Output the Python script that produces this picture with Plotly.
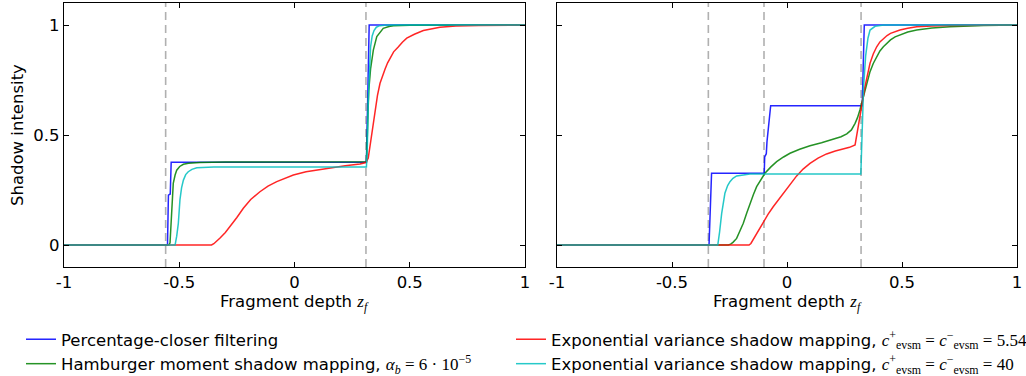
import plotly.graph_objects as go

# ---------------- data ----------------
# Left panel
pcf_l_x = [-1, -0.551, -0.547, -0.539, -0.535, 0.312, 0.324, 1]
pcf_l_y = [0, 0, 0.227, 0.232, 0.376, 0.376, 1, 1]

hm_l_x = [-1, -0.545, -0.540, -0.536, -0.533, -0.529, -0.526, -0.518, -0.511, -0.498, -0.482, -0.46, -0.41, -0.3,
          0.312, 0.316, 0.322, 0.330, 0.342, 0.357, 0.372, 0.385, 0.41, 0.429, 0.5, 1]
hm_l_y = [0, 0, 0.01, 0.09, 0.174, 0.24, 0.28, 0.318, 0.34, 0.357, 0.367, 0.372, 0.375, 0.377,
          0.378, 0.5, 0.7, 0.8, 0.886, 0.947, 0.97, 0.985, 0.993, 0.997, 0.999, 1]

ev5_l_x = [-1, -0.36, -0.35, -0.337, -0.323, -0.30, -0.28, -0.25, -0.222, -0.19, -0.15, -0.115, -0.077, -0.04,
           -0.005, 0.05, 0.14, 0.22, 0.284, 0.31, 0.320, 0.328, 0.335, 0.342, 0.349, 0.36, 0.371, 0.382, 0.393,
           0.404, 0.414, 0.43, 0.45, 0.468, 0.487, 0.52, 0.559, 0.6, 0.631, 0.7, 0.8, 1]
ev5_l_y = [0, 0, 0.006, 0.018, 0.032, 0.057, 0.083, 0.125, 0.167, 0.207, 0.242, 0.268, 0.288, 0.305,
           0.318, 0.333, 0.348, 0.36, 0.368, 0.375, 0.395, 0.45, 0.51, 0.565, 0.61, 0.68, 0.735, 0.772, 0.80,
           0.828, 0.85, 0.878, 0.90, 0.922, 0.94, 0.958, 0.975, 0.985, 0.99, 0.995, 0.998, 1]

ev40_l_x = [-1, -0.518, -0.511, -0.504, -0.497, -0.49, -0.482, -0.472, -0.461, -0.445, -0.424, -0.39, -0.35,
            0.312, 0.316, 0.320, 0.325, 0.33, 0.337, 0.345, 0.355, 0.37, 0.4, 1]
ev40_l_y = [0, 0, 0.04, 0.098, 0.205, 0.26, 0.295, 0.32, 0.333, 0.344, 0.351, 0.353, 0.354,
            0.354, 0.45, 0.65, 0.82, 0.9, 0.95, 0.975, 0.99, 0.997, 1, 1]

# Right panel
pcf_r_x = [-1, -0.339, -0.328, -0.099, -0.097, -0.093, -0.090, -0.087, -0.071, 0.327, 0.336, 1]
pcf_r_y = [0, 0, 0.326, 0.326, 0.40, 0.41, 0.415, 0.47, 0.633, 0.633, 1, 1]

hm_r_x = [-1, -0.255, -0.245, -0.235, -0.219, -0.205, -0.19, -0.175, -0.161, -0.146, -0.132, -0.114, -0.096,
          -0.07, -0.045, -0.015, 0.013, 0.055, 0.1, 0.15, 0.201, 0.235, 0.26, 0.28, 0.296, 0.307, 0.317, 0.328,
          0.339, 0.35, 0.361, 0.375, 0.39, 0.404, 0.419, 0.435, 0.45, 0.47, 0.491, 0.525, 0.564, 0.63, 0.709,
          0.854, 1]
hm_r_y = [0, 0, 0.004, 0.012, 0.03, 0.062, 0.099, 0.145, 0.19, 0.23, 0.265, 0.298, 0.326,
          0.355, 0.379, 0.4, 0.417, 0.435, 0.451, 0.465, 0.48, 0.492, 0.505, 0.523, 0.553, 0.58, 0.614, 0.66,
          0.705, 0.748, 0.788, 0.825, 0.856, 0.882, 0.901, 0.918, 0.932, 0.946, 0.955, 0.968, 0.977, 0.986, 0.992,
          0.998, 1]

ev5_r_x = [-1, -0.165, -0.157, -0.15, -0.14, -0.132, -0.118, -0.103, -0.082, -0.060, -0.038, -0.016, 0.013,
           0.042, 0.07, 0.1, 0.135, 0.172, 0.21, 0.245, 0.272, 0.296, 0.303, 0.31, 0.318, 0.325, 0.332, 0.339,
           0.35, 0.361, 0.375, 0.39, 0.404, 0.419, 0.435, 0.45, 0.47, 0.491, 0.525, 0.564, 0.63, 0.709, 1]
ev5_r_y = [0, 0, 0.007, 0.02, 0.036, 0.053, 0.08, 0.106, 0.14, 0.174, 0.205, 0.235, 0.275,
           0.314, 0.345, 0.371, 0.395, 0.414, 0.427, 0.436, 0.444, 0.455, 0.495, 0.538, 0.585, 0.629, 0.675, 0.72,
           0.776, 0.826, 0.868, 0.901, 0.923, 0.939, 0.952, 0.962, 0.971, 0.977, 0.985, 0.992, 0.996, 0.998, 1]

ev40_r_x = [-1, -0.301, -0.293, -0.284, -0.270, -0.258, -0.248, -0.235, -0.219, -0.19, -0.161,
            0.321, 0.326, 0.333, 0.342, 0.352, 0.361, 0.383, 0.42, 1]
ev40_r_y = [0, 0, 0.06, 0.144, 0.235, 0.27, 0.288, 0.303, 0.314, 0.32, 0.323,
            0.323, 0.5, 0.72, 0.86, 0.94, 0.977, 0.994, 1, 1]

# dashed reference depths
dash_left = [-0.559, 0.310]
dash_right = [-0.342, -0.100, 0.322]

x_ticks = [-1, -0.5, 0, 0.5, 1]
x_ticklabels = ["-1", "-0.5", "0", "0.5", "1"]
y_ticks = [0, 0.5, 1]
y_ticklabels = ["0", "0.5", "1"]

M = "<span style=\"font-family:'Liberation Serif'; font-size:17px\">"
ME = "</span>"
names = [
    "Percentage-closer filtering",
    "Hamburger moment shadow mapping, " + M + "<i>α</i><sub><i>b</i></sub> = 6 · 10<sup>−5</sup>" + ME,
    "Exponential variance shadow mapping, " + M + "<i>c</i><sup>+</sup><sub>evsm</sub> = <i>c</i><sup>−</sup><sub>evsm</sub> = 5.54" + ME,
    "Exponential variance shadow mapping, " + M + "<i>c</i><sup>+</sup><sub>evsm</sub> = <i>c</i><sup>−</sup><sub>evsm</sub> = 40" + ME,
]
colors = ["#0000ff", "#008000", "#ff0000", "#00bfbf"]
legends = ["legend", "legend", "legend2", "legend2"]
x_title = "Fragment depth " + M + "<i>z</i><sub><i>f</i></sub>" + ME

left = [(pcf_l_x, pcf_l_y), (hm_l_x, hm_l_y), (ev5_l_x, ev5_l_y), (ev40_l_x, ev40_l_y)]
right = [(pcf_r_x, pcf_r_y), (hm_r_x, hm_r_y), (ev5_r_x, ev5_r_y), (ev40_r_x, ev40_r_y)]

FS = 16.5
FONT = "DejaVu Sans"

fig = go.Figure()
for i in range(4):
    fig.add_trace(go.Scatter(x=left[i][0], y=left[i][1], mode="lines", name=names[i],
                             line=dict(color=colors[i], width=1.5), opacity=0.85,
                             xaxis="x", yaxis="y", legend=legends[i], showlegend=True))
for i in range(4):
    fig.add_trace(go.Scatter(x=right[i][0], y=right[i][1], mode="lines", name=names[i],
                             line=dict(color=colors[i], width=1.5), opacity=0.85,
                             xaxis="x2", yaxis="y2", showlegend=False))

shapes = []
for xv in dash_left:
    shapes.append(dict(type="line", xref="x", yref="y domain", x0=xv, x1=xv, y0=0, y1=1,
                       line=dict(color="#b0b0b0", width=1.6, dash="8px,5px"), layer="below"))
for xv in dash_right:
    shapes.append(dict(type="line", xref="x2", yref="y2 domain", x0=xv, x1=xv, y0=0, y1=1,
                       line=dict(color="#b0b0b0", width=1.6, dash="8px,5px"), layer="below"))

axis_common = dict(showline=True, linecolor="black", linewidth=1.2, mirror="allticks",
                   ticks="inside", ticklen=5, tickcolor="black", tickwidth=1,
                   showgrid=False, zeroline=False, automargin=False,
                   tickfont=dict(family=FONT, size=FS, color="black"))

W, H = 1026, 376
fig.update_layout(
    width=W, height=H,
    margin=dict(l=0, r=0, t=0, b=0, autoexpand=False),
    paper_bgcolor="white", plot_bgcolor="white",
    font=dict(family=FONT, size=FS, color="black"),
    shapes=shapes,
    xaxis=dict(domain=[64 / W, 525 / W], range=[-1, 1], tickvals=x_ticks, ticktext=x_ticklabels,
               anchor="y", **axis_common),
    yaxis=dict(domain=[1 - 267 / H, 1 - 3 / H], range=[-0.1, 1.1], tickvals=y_ticks,
               ticktext=y_ticklabels, anchor="x", **axis_common),
    xaxis2=dict(domain=[557 / W, 1017 / W], range=[-1, 1], tickvals=x_ticks, ticktext=x_ticklabels,
                anchor="y2", **axis_common),
    yaxis2=dict(domain=[1 - 267 / H, 1 - 3 / H], range=[-0.1, 1.1], tickvals=y_ticks,
                showticklabels=False, anchor="x2", **axis_common),
    legend=dict(x=21 / W, y=1 - 322 / H, xanchor="left", yanchor="top", orientation="v",
                bgcolor="rgba(0,0,0,0)", font=dict(family=FONT, size=FS), tracegroupgap=0),
    legend2=dict(x=511 / W, y=1 - 322 / H, xanchor="left", yanchor="top", orientation="v",
                 bgcolor="rgba(0,0,0,0)", font=dict(family=FONT, size=FS), tracegroupgap=0),
    annotations=[
        dict(text=x_title, x=294 / W, y=1 - 303 / H, xref="paper", yref="paper",
             showarrow=False, font=dict(family=FONT, size=FS), xanchor="center", yanchor="middle"),
        dict(text=x_title, x=787 / W, y=1 - 303 / H, xref="paper", yref="paper",
             showarrow=False, font=dict(family=FONT, size=FS), xanchor="center", yanchor="middle"),
        dict(text="Shadow intensity", x=17 / W, y=1 - 135 / H, xref="paper", yref="paper", textangle=-90,
             showarrow=False, font=dict(family=FONT, size=FS), xanchor="center", yanchor="middle"),
    ],
)

fig.write_html("out.html")
